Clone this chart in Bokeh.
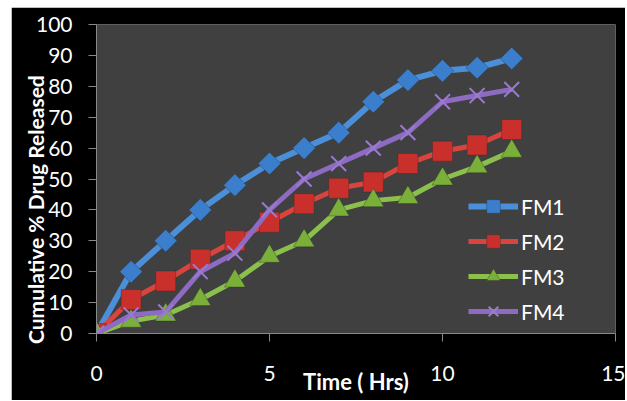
import math
from bokeh.plotting import figure
from bokeh.models import Range1d, Legend, LegendItem, FixedTicker
from bokeh.embed import file_html
from bokeh.resources import INLINE

time_hrs = [0, 1, 2, 3, 4, 5, 6, 7, 8, 9, 10, 11, 12]
fm1 = [0, 20, 30, 40, 48, 55, 60, 65, 75, 82, 85, 86, 89]
fm2 = [0, 11, 17, 24, 30, 36, 42, 47, 49, 55, 59, 61, 66]
fm3 = [0, 4, 6, 11, 17, 25, 30, 40, 43, 44, 50, 54, 59]
fm4 = [0, 6, 7, 20, 26, 40, 50, 55, 60, 65, 75, 77, 79]
series_names = ["FM1", "FM2", "FM3", "FM4"]
x_ticks = [0, 5, 10, 15]
y_ticks = [0, 10, 20, 30, 40, 50, 60, 70, 80, 90, 100]

FONT = "Lato"

p = figure(width=614, height=393, output_backend="svg", toolbar_location=None,
           x_range=Range1d(0, 15), y_range=Range1d(0, 100),
           min_border_left=85, min_border_right=10, min_border_top=17, min_border_bottom=67)
p.margin = (7, 0, 0, 11)
p.background_fill_color = "#404040"
p.border_fill_color = "black"
p.outline_line_color = None
p.xgrid.visible = False
p.ygrid.visible = False

for ax in (p.xaxis[0], p.yaxis[0]):
    ax.axis_line_color = "#8a8a8a"
    ax.major_tick_line_color = "#8a8a8a"
    ax.major_tick_in = 0
    ax.major_tick_out = 8
    ax.minor_tick_line_color = None
    ax.major_label_text_color = "white"
    ax.major_label_text_font = FONT
    ax.major_label_text_font_size = "21px"
    ax.axis_label_text_color = "white"
    ax.axis_label_text_font = FONT
    ax.axis_label_text_font_style = "bold"
    ax.axis_label_text_font_size = "21px"
p.xaxis.ticker = FixedTicker(ticks=x_ticks)
p.yaxis.ticker = FixedTicker(ticks=y_ticks)
p.xaxis.major_label_standoff = 24
p.yaxis.major_label_standoff = 16
p.xaxis.axis_label = "Time ( Hrs)"
# trailing no-break spaces push the rotated title down, as in the reference
p.yaxis.axis_label = "Cumulative % Drug Released" + "\u00a0" * 12
p.xaxis.axis_label_standoff = -16
p.yaxis.axis_label_standoff = -15
p.xaxis.axis_label_text_font_size = "22px"

styles = [
    ("#4a8fd8", "#3b7fcc", "square", 16, math.pi / 4, 6),
    ("#d9443e", "#c9302c", "square", 20, 0, 5),
    ("#8cc04c", "#7aaf3a", "triangle", 21, 0, 5),
    ("#8d6bc2", "#9a7ad0", "x", 21, 0, 5),
]
data = [fm1, fm2, fm3, fm4]
items = []
for name, ys, (lc, mc, mk, ms, ang, lw) in zip(series_names, data, styles):
    lr = p.line(time_hrs, ys, line_color=lc, line_width=lw)
    if mk == "x":
        sr = p.scatter(time_hrs, ys, marker=mk, size=ms, line_color=mc, line_width=2)
    else:
        sr = p.scatter(time_hrs, ys, marker=mk, size=ms, angle=ang, fill_color=mc,
                       line_color="#2a2a2a", line_alpha=0.35, line_width=1)
    items.append(LegendItem(label=name, renderers=[lr, sr]))

legend = Legend(items=items, location=(372, 5))
legend.background_fill_alpha = 0
legend.border_line_alpha = 0
legend.label_text_color = "white"
legend.label_text_font = FONT
legend.label_text_font_size = "21px"
legend.glyph_width = 50
legend.glyph_height = 34
legend.label_height = 20
legend.spacing = 1
legend.padding = 0
legend.margin = 0
legend.label_standoff = 3
p.add_layout(legend)

open("out.html", "w").write(file_html(p, INLINE))
